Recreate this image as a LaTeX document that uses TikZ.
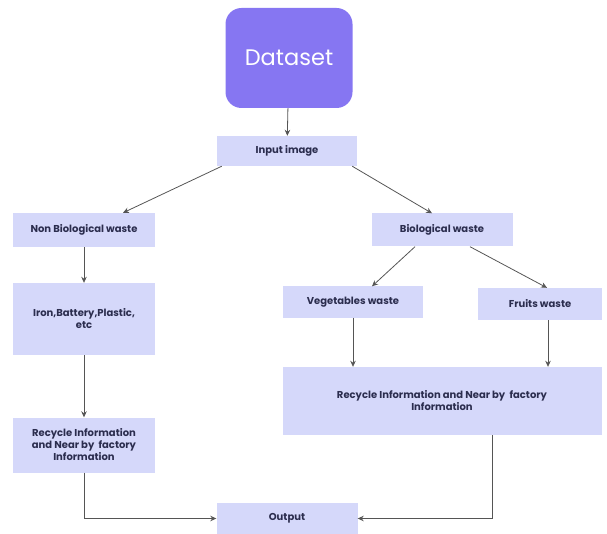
\documentclass[tikz,border=0pt]{standalone}
\usepackage{fontspec}
\setmainfont{Poppins}
\usetikzlibrary{arrows.meta, calc}
\definecolor{dsfill}{HTML}{8676F2}
\definecolor{stfill}{HTML}{D5D8FA}
\definecolor{sttext}{HTML}{2B2D4E}
\definecolor{cnline}{HTML}{555555}
\tikzset{
  box/.style   = {fill=stfill, text=sttext, align=center, inner sep=2pt,
                  font=\fontsize{10}{12}\selectfont\bfseries},
  ds/.style    = {fill=dsfill, rounded corners=16pt, text=white,
                  font=\fontsize{22.5}{26}\selectfont},
  sig/.style   = {-{Stealth[length=6pt, width=5.5pt]}, draw=cnline, line width=0.8pt},
}

\begin{document}
\begin{tikzpicture}[x=1pt, y=-1pt]
\useasboundingbox (0,0) rectangle (607,534);

% top
\node[ds, minimum width=127pt, minimum height=100pt] (data) at (289,58) {Dataset};
\node[box, minimum width=140pt, minimum height=30pt] (input) at (287,151) {Input image};

% left branch
\node[box, minimum width=142pt, minimum height=34pt] (nbw) at (84,230) {Non Biological waste};
\node[box, minimum width=142pt, minimum height=72pt] (iron) at (84,319)
  {Iron,Battery,Plastic,\\etc};
\node[box, minimum width=142pt, minimum height=55pt] (recl) at (84,445)
  {Recycle Information\\and Near by\ \ factory\\Information};

% right branch
\node[box, minimum width=141pt, minimum height=33pt] (bio) at (442,230) {Biological waste};
\node[box, minimum width=140pt, minimum height=31pt] (veg) at (353,302) {Vegetables waste};
\node[box, minimum width=124pt, minimum height=32pt] (fruit) at (540,304) {Fruits waste};
\node[box, minimum width=319pt, minimum height=68pt] (recr) at (442,401)
  {Recycle Information and Near by\ \ factory\\Information};

% bottom
\node[box, minimum width=141pt, minimum height=31pt] (out) at (287,518.5) {Output};

\coordinate (fruitout) at ($(fruit.south)+(8,0)$);
\coordinate (recrout) at ($(recr.south)+(50,0)$);

\draw[sig] (data) -- (input);
\draw[sig] ($(input.south west)+(5,0)$) -- ($(nbw.north)+(39,0)$);
\draw[sig] ($(input.south east)+(-5,0)$) -- ($(bio.north)+(-10,0)$);
\draw[sig] (nbw) -- (iron);
\draw[sig] (iron) -- (recl);
\draw[sig] ($(bio.south)+(-27,0)$) -- ($(veg.north)+(19,0)$);
\draw[sig] ($(bio.south)+(28,0)$) -- ($(fruit.north)+(7,0)$);
\draw[sig] (veg.south) -- (veg.south |- recr.north);
\draw[sig] (fruitout) -- (fruitout |- recr.north);
\draw[sig] (recl.south) |- (out.west);
\draw[sig] (recrout) |- (out.east);

\end{tikzpicture}
\end{document}
